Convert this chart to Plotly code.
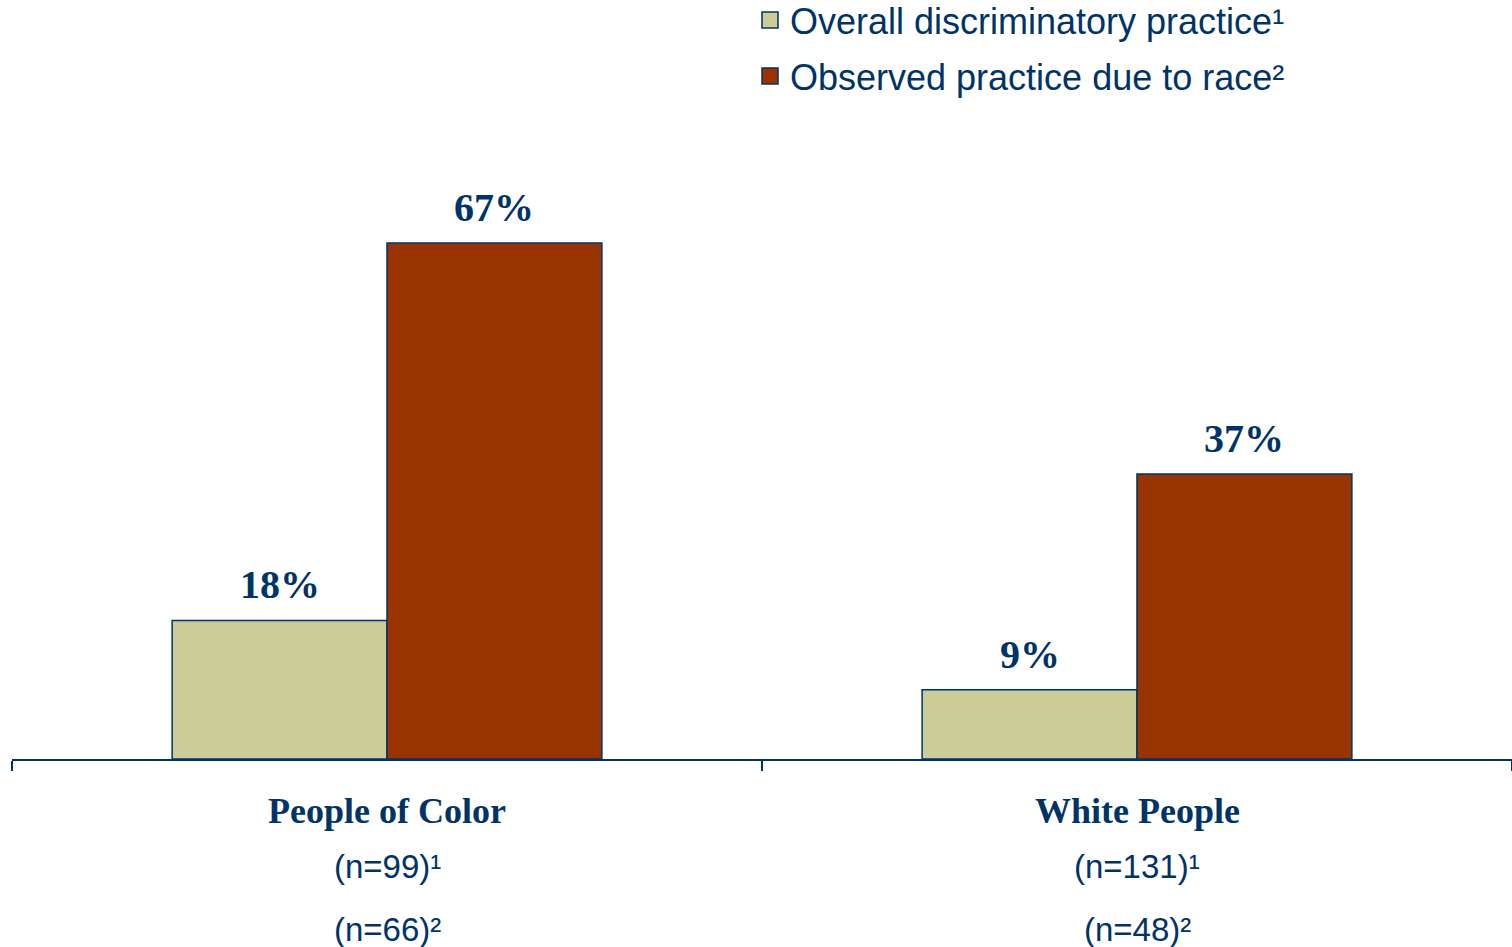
import plotly.graph_objects as go

categories = ["People of Color", "White People"]
n_overall = ["(n=99)¹", "(n=131)¹"]
n_race = ["(n=66)²", "(n=48)²"]
series_names = ["Overall discriminatory practice¹", "Observed practice due to race²"]
overall = [18, 9]
due_to_race = [67, 37]

navy = "#003366"
colors = ["#CCCC99", "#993300"]
serif = "Liberation Serif, Times New Roman, serif"
sans = "Liberation Sans, Arial, sans-serif"

W, H = 1512, 947
L, R, T, B = 12, 0, 143, 188
bargap = 0.427
cat_px = (W - L - R) / len(categories)
bar_px = cat_px * (1 - bargap) / 2
plot_w = W - L - R
plot_h = H - T - B

fig = go.Figure()
for j, (name, vals) in enumerate(zip(series_names, [overall, due_to_race])):
    fig.add_trace(go.Bar(
        x=categories, y=vals, name=name, showlegend=False,
        marker=dict(color=colors[j], line=dict(color=navy, width=1.5)),
    ))
    # legend proxy so the swatch can be bigger than the default bar swatch
    fig.add_trace(go.Scatter(
        x=[None], y=[None], mode="markers", name=name,
        legend="legend" if j == 0 else "legend2",
        marker=dict(symbol="square", size=16, color=colors[j],
                    line=dict(color=navy, width=1.5)),
    ))

annotations = []
for j, vals in enumerate([overall, due_to_race]):
    for cat, v in zip(categories, vals):
        annotations.append(dict(
            x=cat, y=v, xref="x", yref="y", text=f"{v}%", showarrow=False,
            xshift=(j - 0.5) * bar_px, yanchor="bottom", yshift=11,
            font=dict(family=serif, size=40, color=navy, weight="bold"),
        ))
for cat, n1, n2 in zip(categories, n_overall, n_race):
    annotations.append(dict(x=cat, y=0, xref="x", yref="paper", text=f"<b>{cat}</b>",
                            showarrow=False, yanchor="middle", yshift=-52,
                            font=dict(family=serif, size=36, color=navy)))
    annotations.append(dict(x=cat, y=0, xref="x", yref="paper", text=n1,
                            showarrow=False, yanchor="middle", yshift=-107,
                            font=dict(family=sans, size=33, color=navy)))
    annotations.append(dict(x=cat, y=0, xref="x", yref="paper", text=n2,
                            showarrow=False, yanchor="middle", yshift=-170,
                            font=dict(family=sans, size=33, color=navy)))

legend_style = dict(font=dict(family=sans, size=36, color=navy), bgcolor="rgba(0,0,0,0)",
                    xanchor="left", yanchor="middle", xref="paper", yref="paper")
leg_x = (750 - L) / plot_w

fig.update_layout(
    width=W, height=H,
    margin=dict(l=L, r=R, t=T, b=B, autoexpand=False),
    plot_bgcolor="white", paper_bgcolor="white",
    barmode="group", bargap=bargap, bargroupgap=0,
    xaxis=dict(showticklabels=False, showline=True, linecolor=navy, linewidth=2,
               ticks="outside", tickson="boundaries", ticklen=10, tickcolor=navy,
               tickwidth=1.5, showgrid=False),
    yaxis=dict(range=[0, 80], visible=False, showgrid=False),
    legend=dict(x=leg_x, y=1 + (T - 20) / plot_h, **legend_style),
    legend2=dict(x=leg_x, y=1 + (T - 76) / plot_h, **legend_style),
    annotations=annotations,
)

# drop the default page margin so the figure sits flush with the window
fig.write_html("out.html", config={"displayModeBar": False},
               post_script="document.body.style.margin='0';")
